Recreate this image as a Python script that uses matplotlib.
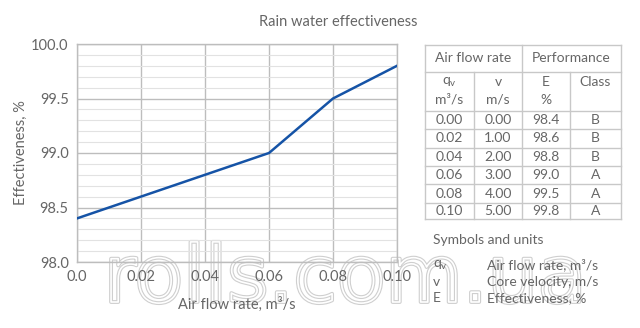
import matplotlib.pyplot as plt
import matplotlib.patheffects as pe
import numpy as np

plt.rcParams['font.family'] = ['Lato', 'DejaVu Sans']

flow = [0.00, 0.02, 0.04, 0.06, 0.08, 0.10]
velocity = [0.00, 1.00, 2.00, 3.00, 4.00, 5.00]
effect = [98.4, 98.6, 98.8, 99.0, 99.5, 99.8]
eclass = ['B', 'B', 'B', 'A', 'A', 'A']

txt = '#666666'
W, H = 640, 328

fig = plt.figure(figsize=(W / 100, H / 100), dpi=100)

# background layer for the outlined site mark
bg = fig.add_axes([0, 0, 1, 1], zorder=-1)
bg.set_xlim(0, W)
bg.set_ylim(H, 0)
bg.axis('off')
bg.text(345, 302, 'rolls.com.ua', ha='center', va='baseline', fontsize=57,
        family='DejaVu Sans', color='none',
        path_effects=[pe.Stroke(linewidth=2.8, foreground='#cfcfcf'),
                      pe.Stroke(linewidth=1.2, foreground='white')])

# chart area in pixels: left, top, right, bottom
L, T, R, B = 77, 44, 397, 262
ax = fig.add_axes([L / W, 1 - B / H, (R - L) / W, (B - T) / H])
ax.patch.set_alpha(0)
ax.plot(flow, effect, color='#1553a6', lw=1.8, zorder=3)
ax.set_xlim(0, 0.10)
ax.set_ylim(98.0, 100.0)
ax.set_xticks(np.arange(0, 0.101, 0.02))
ax.set_xticklabels(['0.0', '0.02', '0.04', '0.06', '0.08', '0.10'])
ax.set_yticks(np.arange(98.0, 100.01, 0.5))
ax.set_yticklabels(['98.0', '98.5', '99.0', '99.5', '100.0'])
ax.set_yticks(np.arange(98.0, 100.01, 0.1), minor=True)
ax.grid(which='major', color='#bdbdbd', lw=1.0)
ax.grid(which='minor', axis='y', color='#e2e2e2', lw=0.8)
ax.tick_params(which='both', length=0, labelsize=10.5, colors=txt, pad=6)
for s in ax.spines.values():
    s.set_color('#bdbdbd')
    s.set_linewidth(1.0)
ax.set_xlabel('Air flow rate, m³/s', fontsize=10.5, color=txt, labelpad=9)
ax.set_ylabel('Effectiveness, %', fontsize=10.5, color=txt, labelpad=2)

# overlay in pixel coordinates for title, table and legend
ov = fig.add_axes([0, 0, 1, 1], zorder=5)
ov.set_xlim(0, W)
ov.set_ylim(H, 0)
ov.axis('off')
ov.patch.set_alpha(0)

ov.text(338, 22, 'Rain water effectiveness', ha='center', va='center',
        fontsize=10.5, color=txt)

cols = [425, 474, 522, 570, 621]
rows = [45, 72, 111, 129, 148, 166, 184, 203, 219]
lc = '#c8c8c8'
for y in rows:
    ov.plot([cols[0], cols[-1]], [y, y], color=lc, lw=1)
for i, x in enumerate(cols):
    top = rows[1] if i in (1, 3) else rows[0]
    ov.plot([x, x], [top, rows[-1]], color=lc, lw=1)

fs = 10
cx = [(cols[i] + cols[i + 1]) / 2 for i in range(4)]
ov.text((cols[0] + cols[2]) / 2, (rows[0] + rows[1]) / 2, 'Air flow rate',
        ha='center', va='center', fontsize=fs, color=txt)
ov.text((cols[2] + cols[4]) / 2, (rows[0] + rows[1]) / 2, 'Performance',
        ha='center', va='center', fontsize=fs, color=txt)
heads = [('q$_\\mathregular{v}$', 'm³/s'), ('v', 'm/s'), ('E', '%'), ('Class', '')]
for x, (a, b) in zip(cx, heads):
    ov.text(x, 82, a, ha='center', va='center', fontsize=fs, color=txt)
    if b:
        ov.text(x, 100, b, ha='center', va='center', fontsize=fs, color=txt)
for i in range(len(flow)):
    y = (rows[i + 2] + rows[i + 3]) / 2
    vals = ['%.2f' % flow[i], '%.2f' % velocity[i], '%.1f' % effect[i], eclass[i]]
    for x, v in zip(cx, vals):
        ov.text(x, y, v, ha='center', va='center', fontsize=fs, color=txt)

ov.text(433, 240, 'Symbols and units', ha='left', va='center', fontsize=fs, color=txt)
legend = [('q$_\\mathregular{v}$', 'Air flow rate, m³/s'),
          ('v', 'Core velocity, m/s'),
          ('E', 'Effectiveness, %')]
for k, (sym, desc) in enumerate(legend):
    y = 265 + k * 16.5
    ov.text(433, y, sym, ha='left', va='center', fontsize=fs, color=txt)
    ov.text(487, y, desc, ha='left', va='center', fontsize=fs, color=txt)

fig.savefig('out.png', dpi=100, facecolor='white')
